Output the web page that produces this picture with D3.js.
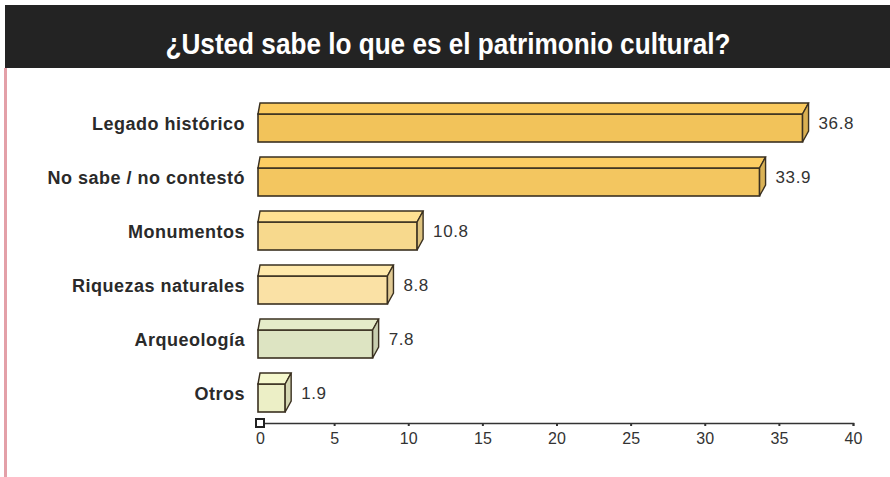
<!DOCTYPE html>
<html>
<head>
<meta charset="utf-8">
<script src="https://cdn.jsdelivr.net/npm/d3@7"></script>
<style>
  body { margin: 0; background: #fff; }
  svg { display: block; }
</style>
</head>
<body>
<div id="chart"></div>
<script>
const title = '¿Usted sabe lo que es el patrimonio cultural?';
const categories = ['Legado histórico', 'No sabe / no contestó', 'Monumentos', 'Riquezas naturales', 'Arqueología', 'Otros'];
const values = [36.8, 33.9, 10.8, 8.8, 7.8, 1.9];
const barColors = ['#f2c35a', '#f3c660', '#f7d98d', '#fae1a5', '#dde4c2', '#ecefc6'];
const ticks = [0, 5, 10, 15, 20, 25, 30, 35, 40];

const width = 890, height = 477;
const svg = d3.select('#chart').append('svg')
    .attr('width', width)
    .attr('height', height);

// header band
svg.append('rect')
    .attr('x', 5).attr('y', 5)
    .attr('width', width - 5).attr('height', 63)
    .attr('fill', '#232323');
svg.append('text')
    .attr('x', 448).attr('y', 46)
    .attr('text-anchor', 'middle')
    .attr('dominant-baseline', 'middle')
    .attr('fill', '#fff')
    .attr('textLength', 565)
    .attr('lengthAdjust', 'spacingAndGlyphs')
    .style('font-family', '"Liberation Sans", Arial, sans-serif')
    .style('font-weight', 'bold')
    .style('font-size', '29px')
    .text(title);
// pink left rule
svg.append('rect')
    .attr('x', 4).attr('y', 68)
    .attr('width', 3).attr('height', height - 68)
    .attr('fill', '#e3a0a8');

const x = d3.scaleLinear().domain([0, 40]).range([260, 853]);
const y = d3.scalePoint().domain(categories).range([125, 395]);

const depth = 11, dx = 6;
const data = categories.map((c, i) => ({name: c, value: values[i], color: barColors[i]}));

const bars = svg.append('g').attr('id', 'bars')
    .selectAll('g')
    .data(data)
    .join('g');

const x0 = x(0) - 2;
const xe = d => x(d.value) - 3;

// front face
bars.append('rect')
    .attr('x', x0)
    .attr('y', d => y(d.name) - 11)
    .attr('width', d => xe(d) - x0)
    .attr('height', 28)
    .attr('fill', d => d.color)
    .attr('stroke', '#3a3020')
    .attr('stroke-width', 1.6);
// top face
bars.append('path')
    .attr('d', d => {
        const t = y(d.name) - 11;
        return `M${x0},${t} L${x0 + 2},${t - depth} L${xe(d) + dx},${t - depth} L${xe(d)},${t} Z`;
    })
    .attr('fill', d => d3.color(d.color).brighter(0.1))
    .attr('stroke', '#3a3020')
    .attr('stroke-width', 1.4);
// side face
bars.append('path')
    .attr('d', d => {
        const t = y(d.name) - 11;
        return `M${xe(d)},${t} L${xe(d) + dx},${t - depth} L${xe(d) + dx},${t + 28 - depth} L${xe(d)},${t + 28} Z`;
    })
    .attr('fill', d => d3.color(d.color).darker(0.3))
    .attr('stroke', '#3a3020')
    .attr('stroke-width', 1.4);

// value labels
bars.append('text')
    .attr('x', d => xe(d) + dx + 10)
    .attr('y', d => y(d.name))
    .attr('dominant-baseline', 'middle')
    .attr('fill', '#333')
    .style('font-family', '"Liberation Sans", Arial, sans-serif')
    .style('font-size', '17px')
    .style('letter-spacing', '0.6px')
    .text(d => d.value.toFixed(1));

// category labels
svg.append('g').attr('id', 'labels')
    .selectAll('text')
    .data(categories)
    .join('text')
    .attr('x', 245)
    .attr('y', d => y(d))
    .attr('text-anchor', 'end')
    .attr('dominant-baseline', 'middle')
    .attr('fill', '#2a2a2a')
    .style('font-family', '"Liberation Sans", Arial, sans-serif')
    .style('font-size', '18px')
    .style('font-weight', 'bold')
    .style('letter-spacing', '0.5px')
    .text(d => d);

// x axis
const axis = svg.append('g')
    .attr('transform', 'translate(0,423)')
    .call(d3.axisBottom(x).tickValues(ticks).tickSize(3).tickPadding(7));
axis.select('.domain').attr('stroke', '#333').attr('stroke-width', 1.6);
axis.selectAll('.tick line').attr('stroke', '#333').attr('stroke-width', 2);
axis.selectAll('.tick text')
    .attr('fill', '#333')
    .style('font-family', '"Liberation Sans", Arial, sans-serif')
    .style('font-size', '16px');
axis.append('rect')
    .attr('x', x(0) - 4).attr('y', -4)
    .attr('width', 8).attr('height', 8)
    .attr('fill', '#fff')
    .attr('stroke', '#222')
    .attr('stroke-width', 2);
</script>
</body>
</html>
